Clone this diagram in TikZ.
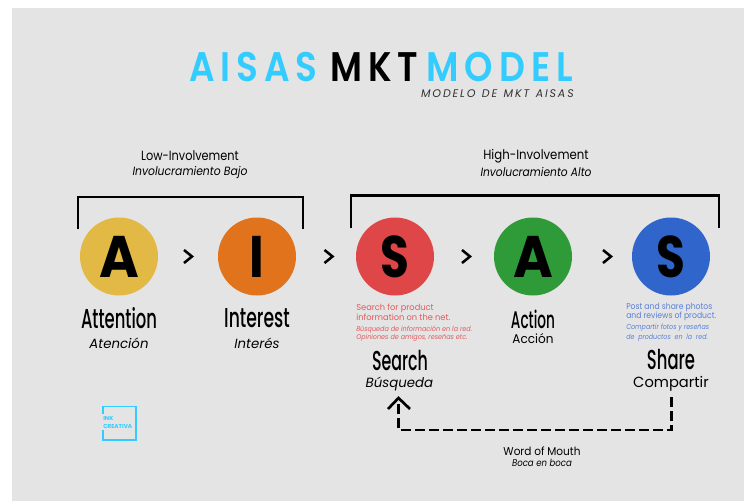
\documentclass[tikz,border=0pt]{standalone}
\usepackage{fontspec}
\setmainfont{Poppins}
\newfontfamily\medfont{Poppins Medium}
\newfontfamily\semifont{Poppins SemiBold}
\usepackage{graphicx}
\definecolor{bg}{HTML}{E4E4E4}
\definecolor{sky}{HTML}{33CCFF}
\definecolor{cA}{HTML}{E2B944}
\definecolor{cI}{HTML}{E0731B}
\definecolor{cS}{HTML}{DE4648}
\definecolor{cG}{HTML}{2E9A38}
\definecolor{cB}{HTML}{3066CC}
\definecolor{txtR}{HTML}{E25A5C}
\definecolor{txtB}{HTML}{5A80D8}
\newcommand{\cond}[2]{\scalebox{#1}[1]{#2}}
\tikzset{
 x=0.75pt,y=-0.75pt,
 stage/.style={circle,minimum size=58.5pt,inner sep=0pt,text=black,font=\fontsize{44}{44}\selectfont\bfseries},
 bracketline/.style={line width=2.1pt,line cap=butt,line join=miter},
 txt/.style={inner sep=0pt},
 titletxt/.style={inner sep=0pt,anchor=base west,font=\fontsize{31}{31}\semifont},
 bigname/.style={inner sep=0pt,font=\fontsize{20.5}{20.5}\medfont},
 flow/.style={line width=2pt,dash pattern=on 7.5pt off 3pt,line cap=butt,line join=miter},
}
\begin{document}
\begin{tikzpicture}
\useasboundingbox (0,0) rectangle (744,501);
\fill[white] (0,0) rectangle (744,501);
\fill[bg] (12,8) rectangle (744,501);
% title
\node[titletxt,text=sky] (t1) at (189,81.5) {\cond{.865}{A\,I\,S\,A\,S}};
\node[titletxt,text=black] (t2) at (330,81.5) {\cond{.86}{M\,K\,T}};
\node[titletxt,text=sky] (t3) at (426,81.5) {\cond{.875}{M\,O\,D\,E\,L}};
\node[txt,anchor=base east,font=\fontsize{8.3}{8.3}\selectfont\itshape,text=black!80] (t4) at (574,97.5) {M\,O\,D\,E\,L\,O\; D\,E\; M\,K\,T\; A\,I\,S\,A\,S};
% headings
\node[txt,font=\fontsize{10}{10}\selectfont] (low) at (190,156) {\cond{.85}{Low-Involvement}};
\node[txt,font=\fontsize{9}{9}\selectfont\itshape] (lowb) at (190,172) {\cond{.9}{Involucramiento Bajo}};
\node[txt,font=\fontsize{10}{10}\selectfont] (high) at (536,156) {\cond{.88}{High-Involvement}};
\node[txt,font=\fontsize{9}{9}\selectfont\itshape] (highb) at (536,172) {\cond{.89}{Involucramiento Alto}};
% circles
\node[stage,fill=cA] (A1) at (119,256.5) {\cond{.92}{A}};
\node[stage,fill=cI] (I1) at (257,256.5) {\cond{.85}{I}};
\node[stage,fill=cS] (S1) at (395,256.5) {\cond{.8}{S}};
\node[stage,fill=cG] (A2) at (533,256.5) {\cond{.92}{A}};
\node[stage,fill=cB] (S2) at (671,256.5) {\cond{.8}{S}};
% brackets
\coordinate (b1a) at (78,229); \coordinate (b1b) at (78,197); \coordinate (b1c) at (303,197); \coordinate (b1d) at (303,229);
\coordinate (b2a) at (351,228); \coordinate (b2b) at (351,195.5); \coordinate (b2c) at (719,195.5); \coordinate (b2d) at (719,228);
\draw[bracketline] (b1a) -- (b1b) -- (b1c) -- (b1d);
\draw[bracketline] (b2a) -- (b2b) -- (b2c) -- (b2d);
% chevrons
\foreach \n/\x in {c1/188,c2/328.5,c3/466,c4/607}{
 \coordinate (\n a) at (\x-4,250); \coordinate (\n b) at (\x+4,256.5); \coordinate (\n c) at (\x-4,263);
 \draw[line width=1.9pt,miter limit=10] (\n a) -- (\n b) -- (\n c);
}
% labels
\node[bigname] (n1) at (119,318) {\cond{.6}{Attention}};
\node[txt,font=\fontsize{10}{10}\selectfont\itshape] (n1b) at (119,343) {Atención};
\node[bigname] (n2) at (257,318) {\cond{.63}{Interest}};
\node[txt,font=\fontsize{10}{10}\selectfont\itshape] (n2b) at (257,343) {Interés};
\node[bigname] (n3) at (400,361) {\cond{.58}{Search}};
\node[txt,font=\fontsize{10}{10}\selectfont\itshape] (n3b) at (399.5,384) {Búsqueda};
\node[bigname,font=\fontsize{18}{18}\medfont] (n4) at (533,319) {\cond{.57}{Action}};
\node[txt,font=\fontsize{9.5}{9.5}\selectfont] (n4b) at (533,339) {\cond{.95}{Acción}};
\node[bigname] (n5) at (671,360) {\cond{.6}{Share}};
\node[txt,font=\fontsize{11}{11}\selectfont] (n5b) at (671,384) {Compartir};
% small text
\node[txt,anchor=north west,text=txtR,font=\fontsize{6.4}{7.6}\selectfont,align=left] (d1) at (356,304) {\cond{.97}{Search for product}\\\cond{.97}{information on the net.}};
\node[txt,anchor=north west,text=txtR,font=\fontsize{5.2}{6.1}\selectfont\itshape,align=left] (d2) at (356,326) {\cond{.93}{Búsqueda de información en la red.}\\\cond{.93}{Opiniones de amigos, reseñas etc.}};
\node[txt,anchor=north west,text=txtB,font=\fontsize{6.4}{7}\selectfont,align=left] (d3) at (626,302.5) {\cond{.9}{Post and share photos}\\\cond{.9}{and reviews of product.}};
\node[txt,anchor=north west,text=txtB,font=\fontsize{5.4}{7.4}\selectfont\itshape,align=left] (d4) at (626,324) {\cond{.88}{Compartir fotos y reseñas}\\\cond{.88}{de\ \ productos\ \ en\ \ la\ \ red.}};
% word of mouth
\coordinate (wa) at (671.5,397);
\coordinate (wb) at (671.5,430);
\coordinate (wc) at (398.5,430);
\coordinate (tip) at (398.5,398);
\draw[flow] (wa) -- (wb) -- (wc) -- (tip);
\draw[line width=2pt,line join=miter] (388,409) -- (tip) -- (410,409);
\node[txt,font=\fontsize{8.5}{8.5}\selectfont] (wm) at (542,451) {\cond{.93}{Word of Mouth}};
\node[txt,font=\fontsize{7.3}{7.3}\selectfont\itshape] (wm2) at (542,463) {\cond{.88}{Boca en boca}};
% logo
\coordinate (l1) at (103,414); \coordinate (l2) at (103,406.5); \coordinate (l3) at (136,406.5); \coordinate (l4) at (136,440); \coordinate (l5) at (103,440); \coordinate (l6) at (103,430);
\draw[sky,line width=1.3pt] (l1) -- (l2) -- (l3) -- (l4) -- (l5) -- (l6);
\node[txt,anchor=west,text=sky,font=\fontsize{4.3}{5.6}\selectfont\bfseries,align=left] (logo) at (103,422.5) {INK\\CREATIVA};
\end{tikzpicture}
\end{document}
